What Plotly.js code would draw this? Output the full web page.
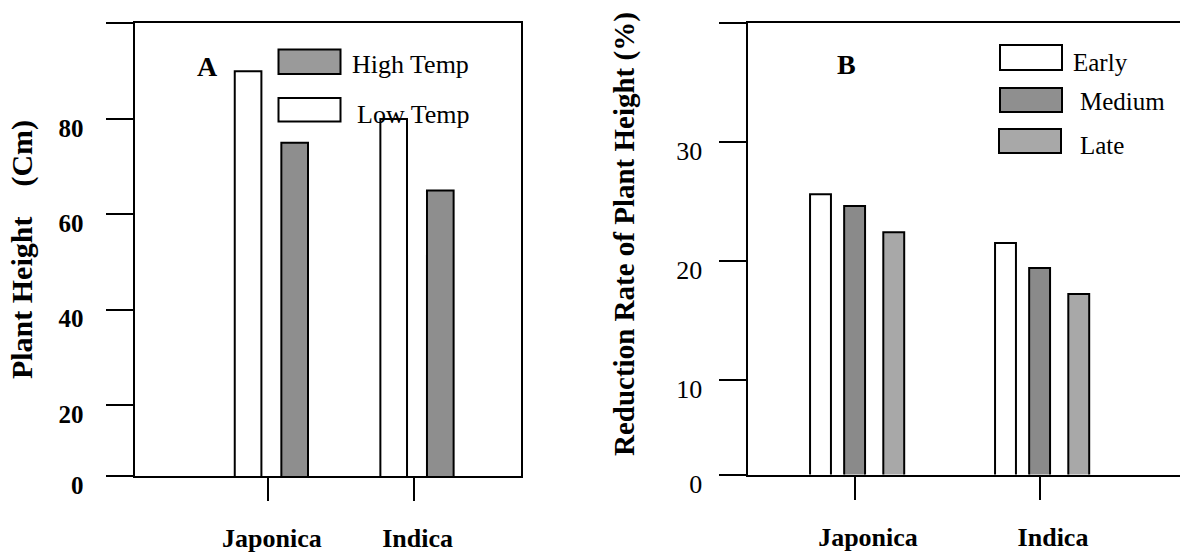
<!DOCTYPE html>
<html>
<head>
<meta charset="utf-8">
<script src="https://cdn.plot.ly/plotly-3.0.1.min.js"></script>
<style>html,body{margin:0;padding:0;background:#fff;}#chart{width:1180px;height:556px;}</style>
</head>
<body>
<div id="chart"></div>
<script>
// ---- data ----
const categories = ['Japonica', 'Indica'];
const heightHighTemp = [75, 65];
const heightLowTemp = [90, 80];
const reductionEarly = [25.6, 21.5];
const reductionMedium = [24.6, 19.4];
const reductionLate = [22.4, 17.2];

const tickValsA = [5.08, 20, 40, 60, 80, 100.15];
const tickTextA = ['0', '20', '40', '60', '80', ''];
const tickValsB = [2.03, 10, 20, 30, 40];
const tickTextB = ['0', '10', '20', '30', ''];

const serif = 'Liberation Serif, Times New Roman, serif';
const W = 1180, H = 556;
const px = v => v / W;
const py = v => 1 - v / H;

const lineStyle = {color: '#000', width: 2};

const traces = [
  {type: 'bar', x: categories, y: heightLowTemp, xaxis: 'x', yaxis: 'y', name: 'Low Temp',
   width: 0.183, offset: -0.228, marker: {color: '#ffffff', line: lineStyle}, showlegend: false, hoverinfo: 'x+y'},
  {type: 'bar', x: categories, y: heightHighTemp, xaxis: 'x', yaxis: 'y', name: 'High Temp',
   width: 0.183, offset: 0.092, marker: {color: '#8e8e8e', line: lineStyle}, showlegend: false, hoverinfo: 'x+y'},
  {type: 'bar', x: categories, y: reductionEarly, xaxis: 'x2', yaxis: 'y2', name: 'Early',
   width: 0.113, offset: -0.243, marker: {color: '#ffffff', line: lineStyle}, showlegend: false, hoverinfo: 'x+y'},
  {type: 'bar', x: categories, y: reductionMedium, xaxis: 'x2', yaxis: 'y2', name: 'Medium',
   width: 0.113, offset: -0.0586, marker: {color: '#8a8a8a', line: lineStyle}, showlegend: false, hoverinfo: 'x+y'},
  {type: 'bar', x: categories, y: reductionLate, xaxis: 'x2', yaxis: 'y2', name: 'Late',
   width: 0.113, offset: 0.153, marker: {color: '#a8a8a8', line: lineStyle}, showlegend: false, hoverinfo: 'x+y'}
];

const baseX = {
  type: 'category', showline: true, linecolor: '#000', linewidth: 2, mirror: true,
  ticks: 'outside', ticklen: 23, tickwidth: 2, tickcolor: '#000',
  showgrid: false, zeroline: false, fixedrange: true, automargin: false,
  tickfont: {family: serif, size: 26, color: '#000', weight: 'bold'},
  ticklabelstandoff: 15
};
const baseY = {
  showline: true, linecolor: '#000', linewidth: 2,
  ticks: 'outside', ticklen: 27, tickwidth: 2, tickcolor: '#000',
  showgrid: false, zeroline: false, fixedrange: true, automargin: false,
  ticklabelshift: 9
};

const layout = {
  width: W, height: H,
  margin: {l: 0, r: 0, t: 0, b: 0},
  paper_bgcolor: '#fff', plot_bgcolor: '#fff',
  barmode: 'overlay',
  showlegend: false,
  font: {family: serif, color: '#000'},
  xaxis: Object.assign({}, baseX, {domain: [px(134.5), px(521)], range: [-0.9164, 1.7377],
    anchor: 'y', ticklabelshift: 4}),
  yaxis: Object.assign({}, baseY, {domain: [py(476), py(23)], range: [5.08, 100.15],
    anchor: 'x', mirror: true, tickvals: tickValsA, ticktext: tickTextA,
    tickfont: {family: serif, size: 25, color: '#000', weight: 'bold'}, ticklabelstandoff: 17,
    title: {text: 'Plant Height\u00A0\u00A0\u00A0\u00A0(Cm)', standoff: 17,
      font: {family: serif, size: 30, color: '#000', weight: 'bold'}}}),
  xaxis2: Object.assign({}, baseX, {domain: [px(747.5), 1], range: [-0.5811, 1.7568],
    anchor: 'y2', ticklabelshift: 13}),
  yaxis2: Object.assign({}, baseY, {domain: [py(474.5), py(23)], range: [2.03, 40],
    anchor: 'x2', mirror: false, tickvals: tickValsB, ticktext: tickTextB,
    tickfont: {family: serif, size: 26, color: '#000'}, ticklabelstandoff: 11}),
  shapes: [
    {type: 'rect', xref: 'paper', yref: 'paper', x0: px(278.5), x1: px(340.5), y0: py(74), y1: py(49.5),
     fillcolor: '#9a9a9a', line: lineStyle},
    {type: 'rect', xref: 'paper', yref: 'paper', x0: px(278.5), x1: px(340.5), y0: py(121.5), y1: py(98),
     fillcolor: '#ffffff', line: lineStyle},
    {type: 'rect', xref: 'paper', yref: 'paper', x0: px(1000), x1: px(1062), y0: py(70), y1: py(45),
     fillcolor: '#ffffff', line: lineStyle},
    {type: 'rect', xref: 'paper', yref: 'paper', x0: px(1000), x1: px(1062), y0: py(112), y1: py(88),
     fillcolor: '#8f8f8f', line: lineStyle},
    {type: 'rect', xref: 'paper', yref: 'paper', x0: px(999), x1: px(1061), y0: py(153), y1: py(129),
     fillcolor: '#a8a8a8', line: lineStyle}
  ],
  annotations: [
    {text: 'Reduction Rate of Plant Height (%)', xref: 'paper', yref: 'paper', x: px(624), y: py(234),
     xanchor: 'center', yanchor: 'middle', textangle: -90, showarrow: false,
     font: {family: serif, size: 29, color: '#000', weight: 'bold'}},
    {text: 'A', xref: 'paper', yref: 'paper', x: px(207), y: py(66), xanchor: 'center', yanchor: 'middle',
     showarrow: false, font: {family: serif, size: 28, color: '#000', weight: 'bold'}},
    {text: 'B', xref: 'paper', yref: 'paper', x: px(846), y: py(65), xanchor: 'center', yanchor: 'middle',
     showarrow: false, font: {family: serif, size: 28, color: '#000', weight: 'bold'}},
    {text: 'High Temp', xref: 'paper', yref: 'paper', x: px(350), y: py(65), xanchor: 'left', yanchor: 'middle',
     showarrow: false, font: {family: serif, size: 26, color: '#000'}},
    {text: 'Low Temp', xref: 'paper', yref: 'paper', x: px(355), y: py(114), xanchor: 'left', yanchor: 'middle',
     showarrow: false, font: {family: serif, size: 26, color: '#000'}},
    {text: 'Early', xref: 'paper', yref: 'paper', x: px(1071), y: py(63), xanchor: 'left', yanchor: 'middle',
     showarrow: false, font: {family: serif, size: 25, color: '#000'}},
    {text: 'Medium', xref: 'paper', yref: 'paper', x: px(1078), y: py(102), xanchor: 'left', yanchor: 'middle',
     showarrow: false, font: {family: serif, size: 25, color: '#000'}},
    {text: 'Late', xref: 'paper', yref: 'paper', x: px(1078), y: py(146), xanchor: 'left', yanchor: 'middle',
     showarrow: false, font: {family: serif, size: 25, color: '#000'}}
  ]
};

Plotly.newPlot('chart', traces, layout, {displayModeBar: false, staticPlot: true});
</script>
</body>
</html>
